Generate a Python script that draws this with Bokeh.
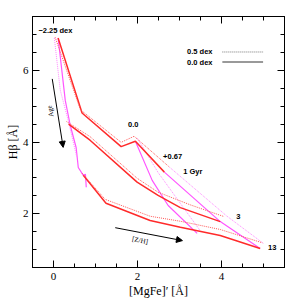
from bokeh.plotting import figure
from bokeh.models import (LinearAxis, SingleIntervalTicker, Label, Arrow, NormalHead,
                          Range1d, CustomJSTickFormatter)
from bokeh.embed import file_html
from bokeh.resources import INLINE

# ---- data ----
# iso-age lines, [alpha/Fe]=0.0 (solid) and 0.5 (dotted)
age1_x = [0.11, 0.68, 1.61, 1.95, 2.64]
age1_y = [6.90, 4.81, 3.87, 4.02, 3.16]
age1d_x = [0.04, 0.64, 1.61, 1.92, 2.76]
age1d_y = [6.92, 4.90, 3.99, 4.16, 3.30]

age3_x = [0.36, 0.87, 1.99, 2.49, 3.02, 3.97]
age3_y = [4.50, 4.05, 2.88, 2.51, 2.17, 1.78]
age3d_x = [0.31, 0.87, 1.99, 2.49, 3.25, 4.06]
age3d_y = [4.57, 4.15, 2.99, 2.60, 2.25, 1.92]

age13_x = [0.71, 1.25, 2.30, 3.02, 3.97, 4.92]
age13_y = [3.07, 2.29, 1.81, 1.62, 1.39, 1.03]
age13d_x = [0.68, 1.23, 2.30, 3.02, 3.97, 4.97]
age13d_y = [3.13, 2.40, 1.93, 1.79, 1.56, 1.19]

# iso-metallicity lines
zm225_x = [0.11, 0.28, 0.40, 0.54, 0.59, 0.71, 0.76, 0.78]
zm225_y = [6.90, 5.16, 4.46, 3.84, 3.29, 3.07, 3.10, 2.74]
zm225d_x = [0.02, 0.16, 0.35, 0.55]
zm225d_y = [6.90, 5.45, 4.60, 3.60]

z00_x = [1.95, 2.35, 2.73, 3.42]
z00_y = [4.02, 2.93, 2.23, 1.45]
z00d_x = [2.00, 2.49, 2.97, 3.49]
z00d_y = [4.10, 3.15, 2.37, 1.53]

z067_x = [2.64, 3.97, 4.92]
z067_y = [3.16, 1.78, 1.03]
z067d_x = [2.76, 4.12, 5.00]
z067d_y = [3.30, 1.94, 1.17]

RED = "#ff2a2a"
REDL = "#ff5a5a"
MAG = "#ff55ff"
MAGL = "#ff88ff"

p = figure(width=300, height=300, x_range=Range1d(-0.5, 5.5), y_range=Range1d(0.5, 7.5),
           output_backend="svg", toolbar_location=None,
           min_border_left=32, min_border_right=16, min_border_top=16, min_border_bottom=33)
p.grid.visible = False
p.background_fill_color = "white"
p.outline_line_color = "black"
p.outline_line_width = 1

# magenta iso-metallicity lines
for xs, ys in [(zm225_x, zm225_y), (z00_x, z00_y), (z067_x, z067_y)]:
    p.line(xs, ys, line_color=MAG, line_width=1.2)
for xs, ys in [(zm225d_x, zm225d_y), (z00d_x, z00d_y), (z067d_x, z067d_y)]:
    p.line(xs, ys, line_color=MAGL, line_width=1.0, line_dash="1 1")
# red iso-age lines
for xs, ys in [(age1_x, age1_y), (age3_x, age3_y), (age13_x, age13_y)]:
    p.line(xs, ys, line_color=RED, line_width=1.5)
for xs, ys in [(age1d_x, age1d_y), (age3d_x, age3d_y), (age13d_x, age13d_y)]:
    p.line(xs, ys, line_color=REDL, line_width=1.0, line_dash="1 1")

# legend
p.line([4.02, 4.99], [6.51, 6.51], line_color="#777777", line_width=1, line_dash="1 1")
p.line([4.02, 4.99], [6.23, 6.23], line_color="#777777", line_width=1.5)

SF = "Liberation Sans"
def lab(x, y, t, align="left", angle=0.0, size="7.5px", style="bold", font=SF, color="black"):
    p.add_layout(Label(x=x, y=y, text=t, text_font=font, text_font_size=size,
                       text_font_style=style, text_align=align, text_baseline="middle",
                       angle=angle, text_color=color))

lab(3.18, 6.51, "0.5 dex")
lab(3.18, 6.23, "0.0 dex")
lab(-0.36, 7.10, "\u22122.25 dex")
lab(1.90, 4.50, "0.0", align="center")
lab(2.61, 3.60, "+0.67")
lab(3.09, 3.18, "1 Gyr")
lab(4.40, 1.92, "3", align="center")
lab(5.11, 1.06, "13")

# arrows
p.add_layout(Arrow(x_start=-0.03, y_start=5.76, x_end=0.23, y_end=3.85,
                   line_color="black", line_width=1,
                   end=NormalHead(size=6, fill_color="black", line_color="black")))
p.add_layout(Arrow(x_start=1.47, y_start=1.61, x_end=3.07, y_end=1.25,
                   line_color="black", line_width=1,
                   end=NormalHead(size=6, fill_color="black", line_color="black")))
lab(-0.07, 4.86, "Age", align="center", angle=1.73, size="7px", style="normal", font="Liberation Serif")
lab(2.06, 1.25, "[Z/H]", align="center", angle=-0.19, size="7px", style="normal", font="Liberation Serif")

# axes
for ax in (p.xaxis[0], p.yaxis[0]):
    ax.ticker = SingleIntervalTicker(interval=2, num_minor_ticks=4)
    ax.major_tick_in = 7
    ax.major_tick_out = 0
    ax.minor_tick_in = 4
    ax.minor_tick_out = 0
    ax.axis_line_color = "black"
    ax.major_label_text_font = "Liberation Serif"
    ax.major_label_text_font_size = "11px"
    ax.major_label_text_color = "black"
    ax.major_label_standoff = 5
    ax.axis_label_text_font = "Liberation Serif"
    ax.axis_label_text_font_size = "12px"
    ax.axis_label_text_font_style = "normal"
    ax.axis_label_text_color = "black"
p.xaxis[0].axis_label = "[MgFe]\u2032 [\u00c5]"
p.xaxis[0].axis_label_standoff = 1
p.yaxis[0].axis_label = "H\u03b2 [\u00c5]"
p.yaxis[0].major_label_standoff = 4
p.yaxis[0].axis_label_standoff = 0

blank = CustomJSTickFormatter(code="return ''")
for loc in ("above", "right"):
    ax = LinearAxis(ticker=SingleIntervalTicker(interval=2, num_minor_ticks=4),
                    major_tick_in=7, major_tick_out=0, minor_tick_in=4, minor_tick_out=0,
                    formatter=blank, major_label_standoff=0, major_label_text_font_size="4px",
                    axis_line_color="black")
    p.add_layout(ax, loc)

open("out.html", "w").write(file_html(p, INLINE))
